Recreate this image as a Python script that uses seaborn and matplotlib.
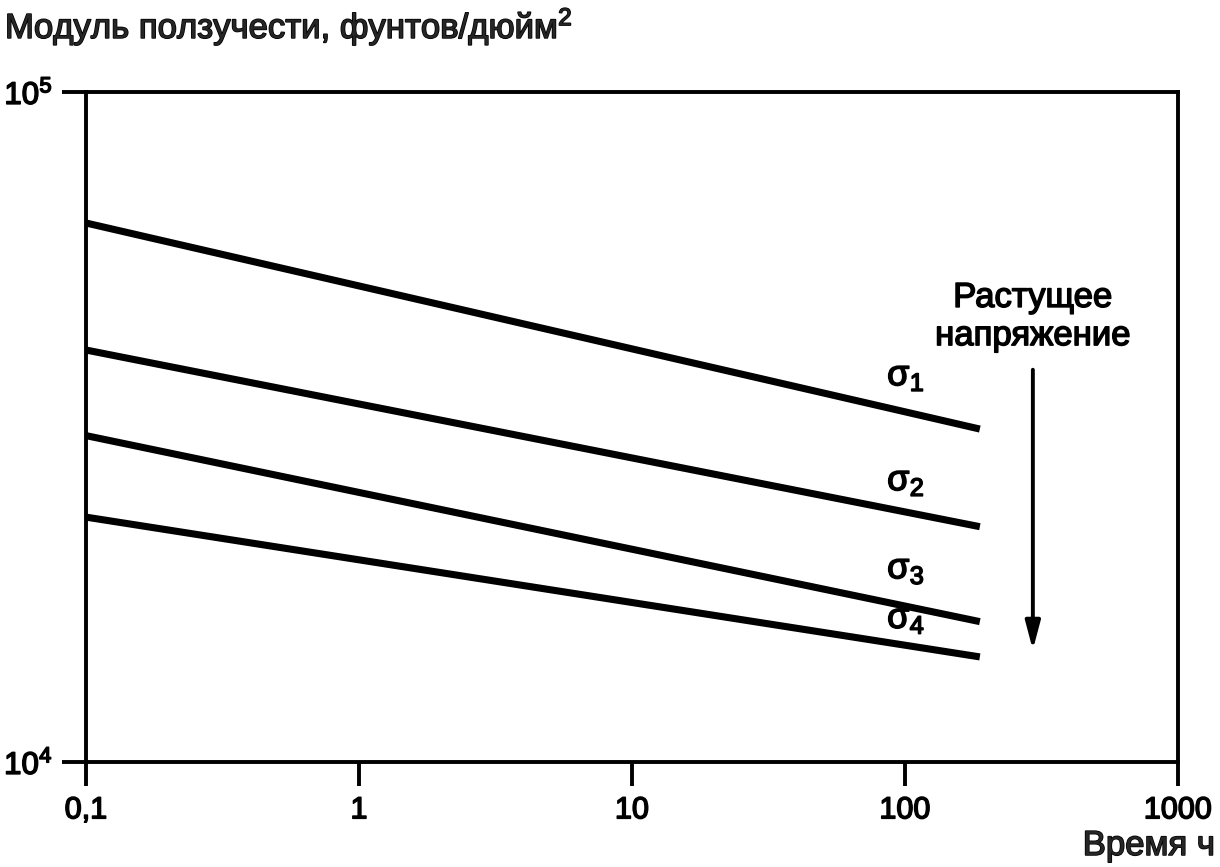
import numpy as np
import pandas as pd
import matplotlib
matplotlib.use("Agg")
import matplotlib.pyplot as plt
import matplotlib.patheffects as pe
from matplotlib.ticker import FixedLocator, FixedFormatter, NullLocator
import seaborn as sns

# ---- data ----
series_names = ["σ1", "σ2", "σ3", "σ4"]
time_h = [0.1, 188.0]
modulus_s1 = [63750, 31400]
modulus_s2 = [41200, 22450]
modulus_s3 = [30700, 16200]
modulus_s4 = [23200, 14350]

x_ticks = [0.1, 1, 10, 100, 1000]
x_tick_labels = ["0,1", "1", "10", "100", "1000"]
y_ticks = [1e4, 1e5]
y_tick_labels = [r"$\mathregular{10^4}$", r"$\mathregular{10^5}$"]
sigma_labels = [r"$\mathregular{σ_1}$", r"$\mathregular{σ_2}$",
                r"$\mathregular{σ_3}$", r"$\mathregular{σ_4}$"]

ylabel_text = r"Модуль ползучести, фунтов/дюйм$\mathregular{^2}$"
xlabel_text = "Время ч"
arrow_text = "Растущее\nнапряжение"

# ---- tidy table ----
all_vals = [modulus_s1, modulus_s2, modulus_s3, modulus_s4]
rows = []
for name, vals in zip(series_names, all_vals):
    for t, v in zip(time_h, vals):
        rows.append({"series": name, "t": t, "E": v})
df = pd.DataFrame(rows)

# ---- style ----
sns.set_style("ticks")
plt.rcParams["font.family"] = ["Liberation Sans", "DejaVu Sans"]
plt.rcParams["mathtext.fontset"] = "custom"
plt.rcParams["mathtext.rm"] = "Liberation Sans"
plt.rcParams["mathtext.it"] = "Liberation Sans"
plt.rcParams["mathtext.bf"] = "Liberation Sans:bold"
FS_NUM = 22
FS_YNUM = 22.5
FS_TXT = 25
FS_SIG = 26
heavy = [pe.withStroke(linewidth=1.1, foreground="black")]

fig = plt.figure(figsize=(12.2, 8.67), dpi=100)
ax = fig.add_axes([86 / 1220, 1 - 762 / 867, 1092 / 1220, 670 / 867])

sns.lineplot(data=df, x="t", y="E", hue="series",
             palette=["black"] * 4, linewidth=5.1, legend=False,
             estimator=None, ax=ax, solid_capstyle="butt")

ax.set_xscale("log")
ax.set_yscale("log")
ax.set_xlim(0.1, 1000)
ax.set_ylim(1e4, 1e5)

ax.xaxis.set_major_locator(FixedLocator(x_ticks))
ax.xaxis.set_major_formatter(FixedFormatter(x_tick_labels))
ax.yaxis.set_major_locator(FixedLocator(y_ticks))
ax.yaxis.set_major_formatter(FixedFormatter(y_tick_labels))
ax.xaxis.set_minor_locator(NullLocator())
ax.yaxis.set_minor_locator(NullLocator())

ax.tick_params(axis="both", which="major", direction="out", length=17,
               width=2.8, color="black", labelsize=FS_NUM, pad=7,
               labelcolor="black")
ax.tick_params(axis="y", labelsize=FS_YNUM, pad=7)
for lab in ax.get_xticklabels() + ax.get_yticklabels():
    lab.set_path_effects(heavy)
for s in ax.spines.values():
    s.set_visible(True)
    s.set_linewidth(2.8)
    s.set_color("black")

ax.set_xlabel(xlabel_text, fontsize=FS_TXT, ha="right", va="baseline",
              path_effects=heavy)
ax.xaxis.set_label_coords((1215 - 86) / 1092, (762 - 855) / 670)
ax.set_ylabel(ylabel_text, fontsize=FS_TXT, rotation=0, ha="left",
              va="baseline", path_effects=heavy)
ax.yaxis.set_label_coords((5 - 86) / 1092, (762 - 38) / 670)

# sigma labels near line ends
sig_pos_y = [36500, 25450, 18800, 15850]
for lab, yy in zip(sigma_labels, sig_pos_y):
    ax.text(86, yy, lab, fontsize=FS_SIG, ha="left", va="baseline",
            color="black", path_effects=heavy)

# arrow + caption
ax.annotate("", xy=(294, 14700), xytext=(294, 38500),
            arrowprops=dict(arrowstyle="-|>,head_length=1.7,head_width=0.45",
                            color="black", lw=2.8, shrinkA=0, shrinkB=0))
ax.text(294, 41900, arrow_text, fontsize=FS_TXT, ha="center", va="baseline",
        color="black", linespacing=1.2, path_effects=heavy)

fig.savefig("out.png", dpi=100, facecolor="white")
